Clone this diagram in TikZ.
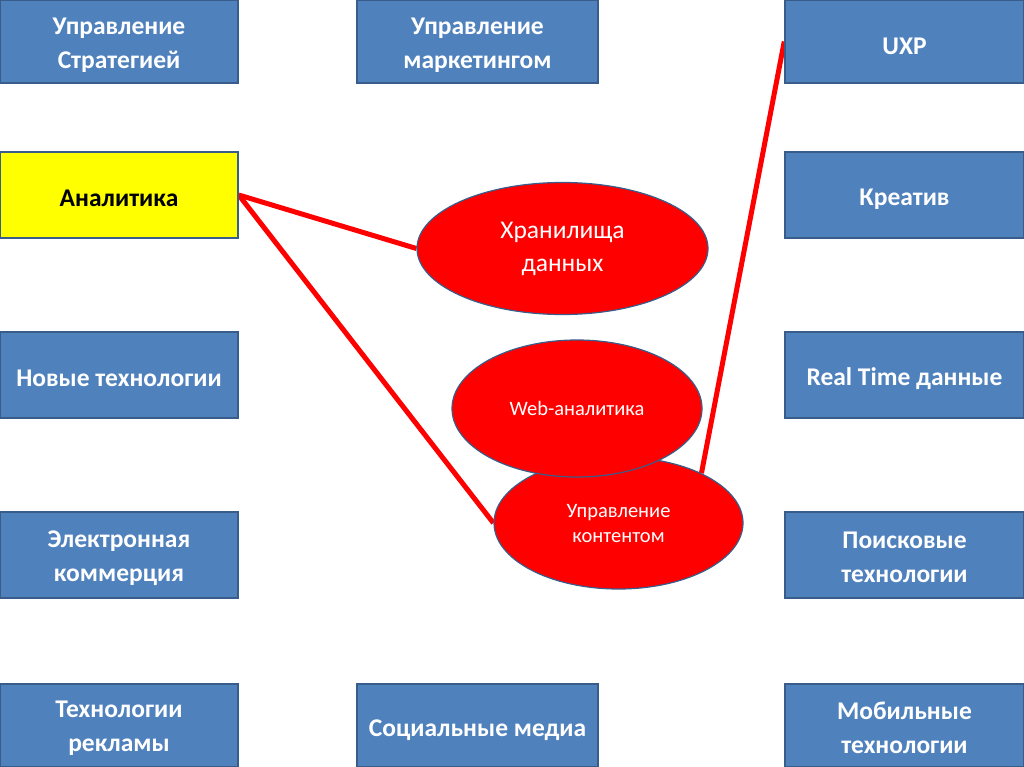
\documentclass[tikz,border=0pt]{standalone}
\usepackage{fontspec}
\setmainfont{Carlito}
\usetikzlibrary{shapes.geometric}
\definecolor{boxblue}{HTML}{4F81BD}
\definecolor{boxedge}{HTML}{385D8A}
\definecolor{hl}{HTML}{FFFF00}
\definecolor{rd}{HTML}{FF0000}
\pgfdeclarelayer{bg}
\pgfsetlayers{bg,main}
\begin{document}
\begin{tikzpicture}[x=1pt,y=-1pt,
  box/.style={draw=boxedge, line width=1.5pt, fill=boxblue, inner sep=0pt,
    minimum height=86pt},
  btext/.style={text=white, font=\bfseries\fontsize{25.5}{34}\selectfont,
    align=center, inner sep=0pt},
  lbox/.style={box, minimum width=238pt},
  mbox/.style={box, minimum width=241pt},
  rbox/.style={box, minimum width=239pt},
  edgebox/.style={minimum height=83pt},
  oval/.style={ellipse, draw=boxedge, line width=1.2pt, fill=rd, text=white,
    align=center, inner sep=0pt},
  redline/.style={draw=rd, line width=5pt}]
\useasboundingbox (0,0) rectangle (1024,767);
\clip (0,0) rectangle (1024,767);
% left column
\node[lbox, edgebox] (strat) at (119,41.5) {};
\node[btext] (strat-t) at ([yshift=-3.5pt]strat.center) {Управление\\Стратегией};
\node[lbox, fill=hl] (an) at (119,195) {};
\node[btext, text=black] (an-t) at ([yshift=-3pt]an.center) {Аналитика};
\node[lbox] (newtech) at (119,375) {};
\node[btext] (newtech-t) at ([yshift=-3pt]newtech.center) {Новые технологии};
\node[lbox] (ecom) at (119,555) {};
\node[btext] (ecom-t) at ([yshift=-3.5pt]ecom.center) {Электронная\\коммерция};
\node[lbox, edgebox] (adv) at (119,725.5) {};
\node[btext] (adv-t) at ([yshift=-3pt]adv.center) {Технологии\\рекламы};
% middle column
\node[mbox, edgebox] (mkt) at (477.5,41.5) {};
\node[btext] (mkt-t) at ([yshift=-3.5pt]mkt.center) {Управление\\маркетингом};
\node[mbox, edgebox] (soc) at (477.5,725.5) {};
\node[btext] (soc-t) at ([yshift=-4.5pt]soc.center) {Социальные медиа};
% right column
\node[rbox, edgebox] (uxp) at (904.5,41.5) {};
\node[btext] (uxp-t) at ([yshift=-4.5pt]uxp.center) {UXP};
\node[rbox] (creat) at (904.5,195) {};
\node[btext] (creat-t) at ([yshift=-4pt]creat.center) {Креатив};
\node[rbox] (rt) at (904.5,375) {};
\node[btext] (rt-t) at ([yshift=-4pt]rt.center) {Real Time данные};
\node[rbox] (search) at (904.5,555) {};
\node[btext] (search-t) at ([yshift=-2.5pt]search.center) {Поисковые\\технологии};
\node[rbox, edgebox] (mob) at (904.5,725.5) {};
\node[btext] (mob-t) at ([yshift=-2pt]mob.center) {Мобильные\\технологии};
% ellipses
\node[oval, minimum width=291pt, minimum height=132pt,
  font=\fontsize{25.5}{33}\selectfont] (store) at (562.5,248.5) {Хранилища\\данных};
\node[oval, minimum width=249pt, minimum height=132pt,
  font=\fontsize{20.5}{25}\selectfont] (content) at (618.5,523) {Управление\\контентом};
\node[oval, minimum width=250pt, minimum height=137pt,
  font=\fontsize{20.5}{24}\selectfont] (web) at (577,408.5) {Web-аналитика};
% connectors
\begin{pgfonlayer}{bg}
\draw[redline] (an.east) -- (store.west);
\draw[redline] (an.east) -- (content.west);
\draw[redline] (uxp.west) -- (content.31);
\end{pgfonlayer}
\end{tikzpicture}
\end{document}
